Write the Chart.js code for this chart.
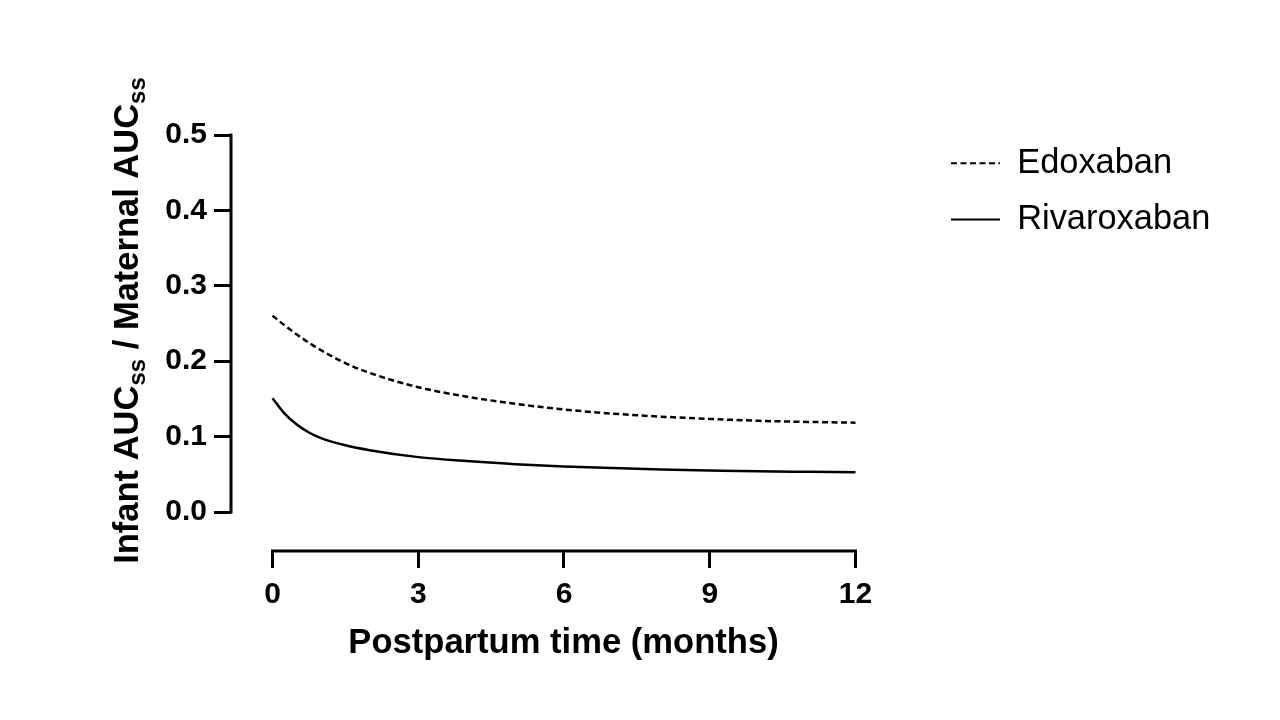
<!DOCTYPE html>
<html>
<head>
<meta charset="utf-8">
<script src="https://cdn.jsdelivr.net/npm/chart.js@4.4.1/dist/chart.umd.min.js"></script>
<style>
html,body{margin:0;padding:0;background:#fff;}
#wrap{width:1280px;height:720px;position:relative;}
</style>
</head>
<body>
<div id="wrap"><canvas id="c"></canvas></div>
<script>
// ---- data ----
const months = [0, 0.25, 0.5, 0.75, 1, 1.5, 2, 3, 4, 5, 6, 7, 8, 9, 10, 11, 12];
const edoxaban = [0.2605, 0.2475, 0.2355, 0.2245, 0.2145, 0.1975, 0.1845, 0.1655, 0.153, 0.1435, 0.136, 0.1305, 0.1265, 0.1235, 0.121, 0.1195, 0.1185];
const rivaroxaban = [0.151, 0.1305, 0.116, 0.1055, 0.098, 0.0885, 0.082, 0.0728, 0.0675, 0.0635, 0.0605, 0.0583, 0.0565, 0.0552, 0.054, 0.0533, 0.0527];
const seriesNames = ['Edoxaban', 'Rivaroxaban'];
const xTicks = [0, 3, 6, 9, 12];
const yTicks = [0, 0.1, 0.2, 0.3, 0.4, 0.5];
const xTitle = 'Postpartum time (months)';
const yTitleParts = [
  {text: 'Infant AUC', sub: false},
  {text: 'ss', sub: true},
  {text: ' / Maternal AUC', sub: false},
  {text: 'ss', sub: true}
];

const FAMILY = "'Liberation Sans', Arial, Helvetica, sans-serif";
Chart.defaults.font.family = FAMILY;
Chart.defaults.color = '#000';

// legend sizing (layout only)
const legendFontSize = 34.4, legendPad = 22, legendBox = 49;
const mctx = document.createElement('canvas').getContext('2d');
mctx.font = legendFontSize + 'px ' + FAMILY;
const maxLegendText = Math.max(...seriesNames.map(s => mctx.measureText(s).width));
const legendWidth = legendPad + legendBox + legendFontSize / 2 + maxLegendText + 10;
const legendLeft = 929;
const padRight = 1280 - legendLeft - legendWidth;

const axisPlugin = {
  id: 'offsetAxes',
  beforeDatasetsDraw(chart) {
    const {ctx, chartArea, scales: {x, y}} = chart;
    ctx.save();
    ctx.strokeStyle = '#000';
    ctx.lineWidth = 3;
    ctx.lineCap = 'square';
    ctx.beginPath();
    ctx.moveTo(chartArea.left, y.getPixelForValue(yTicks[0]));
    ctx.lineTo(chartArea.left, y.getPixelForValue(yTicks[yTicks.length - 1]));
    ctx.stroke();
    ctx.beginPath();
    ctx.moveTo(x.getPixelForValue(xTicks[0]), chartArea.bottom);
    ctx.lineTo(x.getPixelForValue(xTicks[xTicks.length - 1]), chartArea.bottom);
    ctx.stroke();
    ctx.restore();
  }
};

const yTitlePlugin = {
  id: 'yTitle',
  afterDraw(chart) {
    const ctx = chart.ctx;
    const mainFont = 'bold 34.5px ' + FAMILY;
    const subFont = 'bold 24px ' + FAMILY;
    ctx.save();
    ctx.fillStyle = '#000';
    ctx.textBaseline = 'alphabetic';
    ctx.textAlign = 'left';
    let total = 0;
    const widths = yTitleParts.map(p => {
      ctx.font = p.sub ? subFont : mainFont;
      const w = ctx.measureText(p.text).width;
      total += w;
      return w;
    });
    ctx.translate(138, 320.5);
    ctx.rotate(-Math.PI / 2);
    let cx = -total / 2;
    yTitleParts.forEach((p, i) => {
      ctx.font = p.sub ? subFont : mainFont;
      ctx.fillText(p.text, cx, p.sub ? 7 : 0);
      cx += widths[i];
    });
    ctx.restore();
  }
};

const toPts = (arr) => months.map((m, i) => ({x: m, y: arr[i]}));

new Chart(document.getElementById('c'), {
  type: 'line',
  data: {
    datasets: [
      {
        label: seriesNames[0],
        data: toPts(edoxaban),
        borderColor: '#000',
        backgroundColor: '#000',
        borderWidth: 2.5,
        borderDash: [6, 3.5],
        pointRadius: 0,
        cubicInterpolationMode: 'monotone',
        fill: false
      },
      {
        label: seriesNames[1],
        data: toPts(rivaroxaban),
        borderColor: '#000',
        backgroundColor: '#000',
        borderWidth: 2.5,
        pointRadius: 0,
        cubicInterpolationMode: 'monotone',
        fill: false
      }
    ]
  },
  options: {
    responsive: true,
    maintainAspectRatio: false,
    animation: false,
    events: [],
    layout: {padding: {left: 0, top: 124, right: padRight, bottom: 0}},
    plugins: {
      tooltip: {enabled: false},
      legend: {
        position: 'right',
        align: 'start',
        maxWidth: 500,
        labels: {
          usePointStyle: true,
          pointStyle: 'line',
          pointStyleWidth: legendBox,
          boxHeight: 10,
          padding: legendPad,
          color: '#000',
          font: {family: FAMILY, size: legendFontSize, weight: 'normal'},
          generateLabels(chart) {
            const items = Chart.defaults.plugins.legend.labels.generateLabels(chart);
            items.forEach(it => {
              const ds = chart.data.datasets[it.datasetIndex];
              it.lineDash = ds.borderDash || [];
              it.lineWidth = 2;
              it.strokeStyle = ds.borderColor;
              it.fillStyle = ds.borderColor;
            });
            return items;
          }
        }
      }
    },
    scales: {
      x: {
        type: 'linear',
        position: 'bottom',
        min: -0.854,
        max: 12.834,
        afterBuildTicks: (s) => { s.ticks = xTicks.map(v => ({value: v})); },
        afterFit: (s) => { s.height = 169; },
        border: {display: false},
        grid: {display: true, drawOnChartArea: false, drawTicks: true, tickLength: 17, lineWidth: 3, color: '#000'},
        ticks: {padding: 9, color: '#000', font: {size: 30, weight: 'bold'}, maxRotation: 0, callback: (v) => String(v)},
        title: {display: true, text: xTitle, color: '#000', font: {size: 34.6, weight: 'bold'}, padding: {top: 0, bottom: 56}}
      },
      y: {
        type: 'linear',
        position: 'left',
        min: -0.0517,
        max: 0.5146,
        afterBuildTicks: (s) => { s.ticks = yTicks.map(v => ({value: v})); },
        afterFit: (s) => { s.width = 231; },
        border: {display: false},
        grid: {display: true, drawOnChartArea: false, drawTicks: true, tickLength: 17, lineWidth: 3, color: '#000'},
        ticks: {padding: 7, color: '#000', font: {size: 30, weight: 'bold'}, callback: (v) => Number(v).toFixed(1)}
      },
      y2: {
        type: 'linear',
        position: 'right',
        min: 0,
        max: 1,
        display: true,
        afterFit: (s) => { s.width = 33; },
        border: {display: false},
        grid: {display: false},
        ticks: {display: false}
      }
    }
  },
  plugins: [axisPlugin, yTitlePlugin]
});
</script>
</body>
</html>
